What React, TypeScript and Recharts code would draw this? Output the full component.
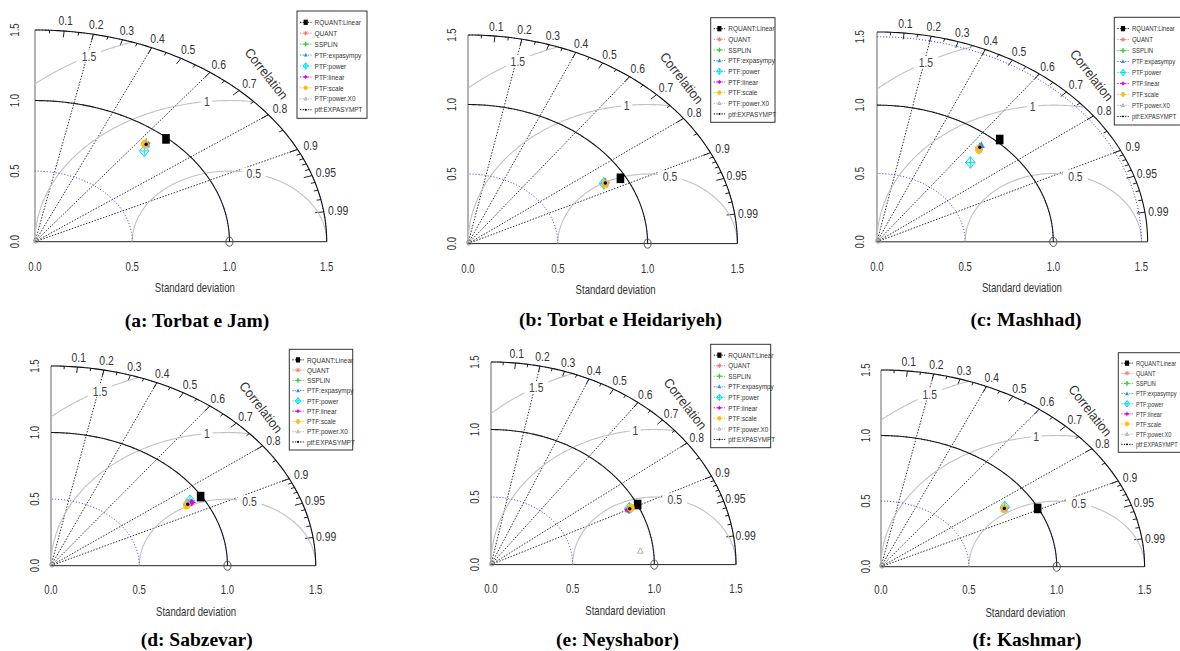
import React from 'react';
import { ScatterChart, Scatter, XAxis, YAxis, ReferenceLine, ReferenceDot } from 'recharts';

// ---------- data ----------
const MODEL_NAMES = ['RQUANT:Linear', 'QUANT', 'SSPLIN', 'PTF:expasympy', 'PTF:power', 'PTF:linear', 'PTF:scale', 'PTF:power.X0', 'ptf:EXPASYMPT'];
const MODEL_COLORS = ['#000000', '#f27878', '#3ccb3c', '#2a8ff2', '#00dff0', '#e400e4', '#ffbe14', '#b2b2b2', '#000000'];
const MODEL_SYMBOLS = ['square', 'asterisk', 'plus', 'triangle', 'diamondPlus', 'diamond', 'dot', 'triangleOpen', 'smallDot'];

const STATION_TITLES = ['(a: Torbat e Jam)', '(b: Torbat e Heidariyeh)', '(c: Mashhad)', '(d: Sabzevar)', '(e: Neyshabor)', '(f: Kashmar)'];

// standard deviation and correlation per model (order of MODEL_NAMES)
const SD_TORBAT_JAM = [0.992, 0.900, 0.905, 0.895, 0.854, 0.898, 0.893, 0.900, 0.896];
const COR_TORBAT_JAM = [0.679, 0.636, 0.632, 0.640, 0.658, 0.636, 0.632, 0.638, 0.638];
const SD_TORBAT_HEIDARIYEH = [0.970, 0.880, 0.884, 0.878, 0.872, 0.880, 0.876, 0.880, 0.880];
const COR_TORBAT_HEIDARIYEH = [0.875, 0.869, 0.866, 0.870, 0.868, 0.869, 0.872, 0.869, 0.869];
const SD_MASHHAD = [1.022, 0.903, 0.905, 0.922, 0.786, 0.900, 0.889, 0.903, 0.905];
const COR_MASHHAD = [0.681, 0.645, 0.643, 0.642, 0.674, 0.645, 0.650, 0.645, 0.645];
const SD_SABZEVAR = [0.994, 0.915, 0.905, 0.910, 0.927, 0.928, 0.894, 0.905, 0.902];
const COR_SABZEVAR = [0.853, 0.855, 0.857, 0.856, 0.850, 0.859, 0.860, 0.857, 0.859];
const SD_NEYSHABOR = [1.002, 0.945, 0.945, 0.936, 0.945, 0.934, 0.954, 0.920, 0.945];
const COR_NEYSHABOR = [0.896, 0.899, 0.899, 0.900, 0.897, 0.900, 0.898, 0.994, 0.899];
const SD_KASHMAR = [0.996, 0.831, 0.831, 0.829, 0.838, 0.831, 0.828, 0.831, 0.831];
const COR_KASHMAR = [0.895, 0.845, 0.845, 0.846, 0.840, 0.845, 0.846, 0.845, 0.845];

const STATION_SD = [SD_TORBAT_JAM, SD_TORBAT_HEIDARIYEH, SD_MASHHAD, SD_SABZEVAR, SD_NEYSHABOR, SD_KASHMAR];
const STATION_COR = [COR_TORBAT_JAM, COR_TORBAT_HEIDARIYEH, COR_MASHHAD, COR_SABZEVAR, COR_NEYSHABOR, COR_KASHMAR];

const AXIS_TICKS = [0, 0.5, 1, 1.5];
const AXIS_TICK_LABELS = ['0.0', '0.5', '1.0', '1.5'];
const CORR_LABELS = [0.1, 0.2, 0.3, 0.4, 0.5, 0.6, 0.7, 0.8, 0.9, 0.95, 0.99];
const CORR_MINOR = [0.05, 0.15, 0.25, 0.35, 0.45, 0.55, 0.65, 0.75, 0.85, 0.91, 0.92, 0.93, 0.94, 0.96, 0.97, 0.98];
const CORR_LINES = [0.2, 0.4, 0.6, 0.8, 0.9];
const RMS_LEVELS = [0.5, 1, 1.5];
const RMS_LABELS = ['0.5', '1', '1.5'];
const RMS_LABEL_ANGLES = [75.5, 96.7, 118.8];
const SD_ARCS = [0.5, 1, 1.5];
const REF_SD = 1;

// ---------- layout (pixels) ----------
const LAYOUT = [
  { x0: 35, y0: 241.7, sx: 194.47, sy: 141.13, maxR: 1.5, yLab: 20, xLab: 25, legend: [297, 11, 70, 107.3], legendScale: 0.85, title: [197, 327] },
  { x0: 468.3, y0: 243.3, sx: 179.6, sy: 139.07, maxR: 1.5, yLab: 16.6, xLab: 25, legend: [710.7, 17.7, 64.3, 104.6], legendScale: 0.85, title: [620.5, 326] },
  { x0: 877.3, y0: 241.7, sx: 176.3, sy: 136.7, maxR: 1.535, yLab: 17.3, xLab: 25, legend: [1114.3, 17.3, 72, 107.7], legendScale: 0.79, title: [1026, 326] },
  { x0: 51, y0: 565.7, sx: 176.47, sy: 133.13, maxR: 1.5, yLab: 16, xLab: 23.6, legend: [289.3, 349.3, 63.4, 100.7], legendScale: 0.85, title: [196.7, 645.5] },
  { x0: 491, y0: 564.3, sx: 163.33, sy: 135.07, maxR: 1.5, yLab: 16, xLab: 24, legend: [710.7, 344.3, 60, 103.4], legendScale: 0.83, title: [617.5, 645.5] },
  { x0: 880.7, y0: 566.7, sx: 175.73, sy: 131.13, maxR: 1.5, yLab: 15.7, xLab: 23.3, legend: [1118.3, 352.7, 70, 99.6], legendScale: 0.74, title: [1027, 645.5] },
];

const SANS = '"Liberation Sans", Arial, sans-serif';
const SERIF = '"Liberation Serif", "Times New Roman", serif';

const CText = ({ x, y, size = 12, sx = 0.8, rotate = 0, anchor = 'middle', fill = '#333', family = SANS, weight = 'normal', children }: any) => (
  <text
    transform={`translate(${x},${y}) rotate(${rotate}) scale(${sx},1)`}
    x={0}
    y={0}
    fontSize={size}
    fontFamily={family}
    fontWeight={weight}
    textAnchor={anchor}
    dominantBaseline="central"
    fill={fill}
  >
    {children}
  </text>
);

const NoShape = () => <g />;

function Marker({ kind, cx, cy, color, s = 1 }: any) {
  const h = 4 * s;
  switch (kind) {
    case 'square':
      return <rect x={cx - 3.8 * s} y={cy - 4.8 * s} width={7.6 * s} height={9.6 * s} fill={color} />;
    case 'asterisk':
      return (
        <g stroke={color} strokeWidth={1}>
          <line x1={cx - h} y1={cy} x2={cx + h} y2={cy} />
          <line x1={cx} y1={cy - h} x2={cx} y2={cy + h} />
          <line x1={cx - h * 0.7} y1={cy - h * 0.7} x2={cx + h * 0.7} y2={cy + h * 0.7} />
          <line x1={cx - h * 0.7} y1={cy + h * 0.7} x2={cx + h * 0.7} y2={cy - h * 0.7} />
        </g>
      );
    case 'plus':
      return (
        <g stroke={color} strokeWidth={1.4}>
          <line x1={cx - h} y1={cy} x2={cx + h} y2={cy} />
          <line x1={cx} y1={cy - h * 1.1} x2={cx} y2={cy + h * 1.1} />
        </g>
      );
    case 'triangle':
      return <polygon points={`${cx},${cy - h} ${cx + h * 0.9},${cy + h * 0.7} ${cx - h * 0.9},${cy + h * 0.7}`} fill={color} />;
    case 'diamondPlus':
      return (
        <g stroke={color} strokeWidth={1} fill="none">
          <polygon points={`${cx},${cy - 5.8 * s} ${cx + 4.7 * s},${cy} ${cx},${cy + 5.8 * s} ${cx - 4.7 * s},${cy}`} />
          <line x1={cx - 4.7 * s} y1={cy} x2={cx + 4.7 * s} y2={cy} />
          <line x1={cx} y1={cy - 5.8 * s} x2={cx} y2={cy + 5.8 * s} />
        </g>
      );
    case 'diamond':
      return (
        <g>
          <polygon points={`${cx},${cy - h} ${cx + h * 0.8},${cy} ${cx},${cy + h} ${cx - h * 0.8},${cy}`} fill={color} />
          <line x1={cx - h} y1={cy} x2={cx + h} y2={cy} stroke={color} strokeWidth={1} />
        </g>
      );
    case 'dot':
      return <ellipse cx={cx} cy={cy} rx={3.8 * s} ry={4.5 * s} fill={color} />;
    case 'triangleOpen':
      return <polygon points={`${cx},${cy - h * 0.8} ${cx + h * 0.7},${cy + h * 0.55} ${cx - h * 0.7},${cy + h * 0.55}`} fill="none" stroke={color} strokeWidth={1} />;
    case 'smallDot':
    default:
      return <circle cx={cx} cy={cy} r={1.7 * s} fill={color} />;
  }
}

function circleArc(cx: number, cy: number, r: number, a0: number, a1: number, maxR: number, n = 120) {
  const pts: any[] = [];
  for (let i = 0; i <= n; i++) {
    const t = a0 + ((a1 - a0) * i) / n;
    const x = Math.min(maxR, Math.max(0, cx + r * Math.cos(t)));
    const y = Math.min(maxR, Math.max(0, cy + r * Math.sin(t)));
    pts.push({ x, y });
  }
  return pts;
}

function Panel({ idx }: any) {
  const L = LAYOUT[idx];
  const sd = STATION_SD[idx];
  const cor = STATION_COR[idx];
  const maxR = L.maxR;
  const plotW = L.sx * maxR;
  const plotH = L.sy * maxR;
  const YW = 30, MT = 30, MR = 54, XH = 62;
  const left = L.x0 - YW;
  const top = L.y0 - plotH - MT;
  const width = YW + plotW + MR;
  const height = MT + plotH + XH;

  const greyArcs = RMS_LEVELS.map((r) => {
    const c = (maxR * maxR - 1 - r * r) / (2 * r);
    const a0 = Math.acos(Math.max(-1, Math.min(1, c)));
    const a1 = r > 1 ? Math.acos(-1 / r) : Math.PI;
    return circleArc(REF_SD, 0, r, a0, a1, maxR);
  });
  const outer = circleArc(0, 0, maxR, 0, Math.PI / 2, maxR);
  const refArc = circleArc(0, 0, REF_SD, 0, Math.PI / 2, maxR);
  const blueArcs = SD_ARCS.map((r) => circleArc(0, 0, r, 0, Math.PI / 2, maxR));

  const xTick = (p: any) => {
    const i = AXIS_TICKS.indexOf(p.payload.value);
    return <CText x={p.x} y={p.y + L.xLab} size={12} sx={0.8}>{AXIS_TICK_LABELS[i]}</CText>;
  };
  const yTick = (p: any) => {
    const i = AXIS_TICKS.indexOf(p.payload.value);
    return <CText x={p.x - L.yLab} y={p.y} size={12} sx={0.8} rotate={-90}>{AXIS_TICK_LABELS[i]}</CText>;
  };

  const corrLabelR = 1.05 * maxR;
  const corrTitleR = 1.122 * maxR;

  return (
    <div style={{ position: 'absolute', left, top }}>
      <ScatterChart width={width} height={height} margin={{ top: MT, right: MR, bottom: 0, left: 0 }}>
        <XAxis
          type="number"
          dataKey="x"
          domain={[0, maxR]}
          ticks={AXIS_TICKS}
          interval={0}
          tickLine={false}
          tickSize={0}
          tickMargin={0}
          height={XH}
          axisLine={{ stroke: '#222', strokeWidth: 1 }}
          tick={xTick}
        />
        <YAxis
          type="number"
          dataKey="y"
          domain={[0, maxR]}
          ticks={AXIS_TICKS}
          interval={0}
          tickLine={false}
          tickSize={0}
          tickMargin={0}
          width={YW}
          axisLine={{ stroke: '#666', strokeWidth: 1 }}
          tick={yTick}
        />
        {greyArcs.map((pts, i) => (
          <Scatter key={'g' + i} data={pts} line={{ stroke: '#c2c2c2', strokeWidth: 1.1, fill: 'none' }} lineType="joint" shape={NoShape} isAnimationActive={false} legendType="none" />
        ))}
        {blueArcs.map((pts, i) => (
          <Scatter key={'b' + i} data={pts} line={{ stroke: '#3333ff', strokeWidth: 1, strokeDasharray: '1 2', fill: 'none' }} lineType="joint" shape={NoShape} isAnimationActive={false} legendType="none" />
        ))}
        <Scatter data={outer} line={{ stroke: '#111', strokeWidth: 1.1, fill: 'none' }} lineType="joint" shape={NoShape} isAnimationActive={false} legendType="none" />
        <Scatter data={refArc} line={{ stroke: '#1a1a1a', strokeWidth: 1.1, fill: 'none' }} lineType="joint" shape={NoShape} isAnimationActive={false} legendType="none" />
        {CORR_LINES.map((c) => (
          <ReferenceLine key={'cl' + c} segment={[{ x: 0, y: 0 }, { x: maxR * c, y: maxR * Math.sqrt(1 - c * c) }]} stroke="#333" strokeWidth={1} strokeDasharray="1.5 1.5" ifOverflow="visible" />
        ))}
        {CORR_LABELS.map((c) => (
          <ReferenceLine key={'mt' + c} segment={[{ x: maxR * c, y: maxR * Math.sqrt(1 - c * c) }, { x: 0.97 * maxR * c, y: 0.97 * maxR * Math.sqrt(1 - c * c) }]} stroke="#222" strokeWidth={1} ifOverflow="visible" />
        ))}
        {CORR_MINOR.map((c) => (
          <ReferenceLine key={'nt' + c} segment={[{ x: maxR * c, y: maxR * Math.sqrt(1 - c * c) }, { x: 0.985 * maxR * c, y: 0.985 * maxR * Math.sqrt(1 - c * c) }]} stroke="#222" strokeWidth={1} ifOverflow="visible" />
        ))}
        {CORR_LABELS.map((c) => (
          <ReferenceDot
            key={'lab' + c}
            x={corrLabelR * c}
            y={corrLabelR * Math.sqrt(1 - c * c)}
            r={0}
            ifOverflow="visible"
            shape={(p: any) => <CText x={p.cx} y={p.cy} size={13} sx={0.8}>{String(c)}</CText>}
          />
        ))}
        <ReferenceDot
          x={corrTitleR * Math.SQRT1_2}
          y={corrTitleR * Math.SQRT1_2}
          r={0}
          ifOverflow="visible"
          shape={(p: any) => <CText x={p.cx} y={p.cy} size={13.5} sx={0.92} rotate={52}>Correlation</CText>}
        />
        {RMS_LEVELS.map((r, i) => {
          const a = (RMS_LABEL_ANGLES[i] * Math.PI) / 180;
          const txt = RMS_LABELS[i];
          return (
            <ReferenceDot
              key={'rl' + i}
              x={REF_SD + r * Math.cos(a)}
              y={r * Math.sin(a)}
              r={0}
              ifOverflow="visible"
              shape={(p: any) => (
                <g>
                  <rect x={p.cx - txt.length * 3.4 - 2} y={p.cy - 6} width={txt.length * 6.8 + 4} height={12} fill="#fff" />
                  <CText x={p.cx} y={p.cy} size={13} sx={0.8} fill="#444">{txt}</CText>
                </g>
              )}
            />
          );
        })}
        <ReferenceDot x={REF_SD} y={0} r={0} ifOverflow="visible" shape={(p: any) => <ellipse cx={p.cx} cy={p.cy} rx={3.6} ry={4.6} fill="none" stroke="#555" strokeWidth={1} />} />
        <ReferenceDot x={0} y={0} r={0} ifOverflow="visible" shape={(p: any) => <circle cx={p.cx + 1} cy={p.cy - 1} r={2.4} fill="none" stroke="#888" strokeWidth={0.8} />} />
        <ReferenceDot
          x={0.822}
          y={0}
          r={0}
          ifOverflow="visible"
          shape={(p: any) => <CText x={p.cx} y={p.cy + 46} size={12} sx={0.8}>Standard deviation</CText>}
        />
        {MODEL_NAMES.map((name, m) => (
          <Scatter
            key={name}
            name={name}
            data={[{ x: sd[m] * cor[m], y: sd[m] * Math.sqrt(1 - cor[m] * cor[m]) }]}
            shape={(p: any) => <Marker kind={MODEL_SYMBOLS[m]} cx={p.cx} cy={p.cy} color={MODEL_COLORS[m]} />}
            isAnimationActive={false}
          />
        ))}
      </ScatterChart>
    </div>
  );
}

function LegendBox({ idx }: any) {
  const L = LAYOUT[idx];
  const [lx, ly, lw, lh] = L.legend;
  const first = ly + lh * 0.105;
  const step = (lh * (1 - 0.105 - 0.08)) / 8;
  return (
    <g>
      <rect x={lx} y={ly} width={lw} height={lh} fill="#fff" stroke="#333" strokeWidth={1} />
      {MODEL_NAMES.map((n, i) => {
        const y = first + i * step;
        return (
          <g key={n}>
            <line x1={lx + 3} x2={lx + 14.5} y1={y} y2={y} stroke={MODEL_COLORS[i]} strokeWidth={0.9} strokeDasharray="1.4 1.2" />
            <Marker kind={MODEL_SYMBOLS[i]} cx={lx + 8.7} cy={y} color={MODEL_COLORS[i]} s={0.55} />
            <CText x={lx + 17.6} y={y} size={7.6} sx={L.legendScale} anchor="start" fill="#333">{n}</CText>
          </g>
        );
      })}
    </g>
  );
}

export default function App() {
  return (
    <div style={{ position: 'absolute', left: 0, top: 0, width: 1180, height: 651, overflow: 'hidden', background: '#fff' }}>
      {LAYOUT.map((_, i) => (
        <Panel key={i} idx={i} />
      ))}
      <svg width={1180} height={651} style={{ position: 'absolute', left: 0, top: 0, pointerEvents: 'none' }}>
        {LAYOUT.map((_, i) => (
          <LegendBox key={'lg' + i} idx={i} />
        ))}
        {LAYOUT.map((L, i) => (
          <text key={'t' + i} x={L.title[0]} y={L.title[1]} textAnchor="middle" fontFamily={SERIF} fontWeight="bold" fontSize={19.5} fill="#000">
            {STATION_TITLES[i]}
          </text>
        ))}
      </svg>
    </div>
  );
}
